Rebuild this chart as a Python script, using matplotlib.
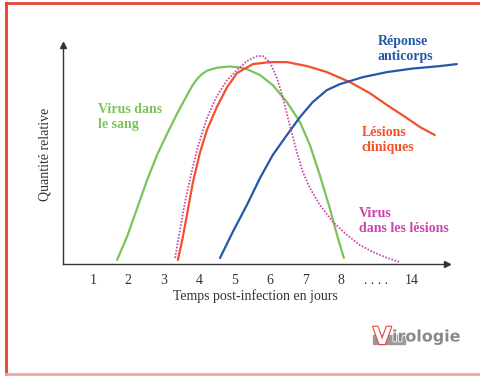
import matplotlib.pyplot as plt
import matplotlib.patheffects as pe
from matplotlib.lines import Line2D
from matplotlib.patches import Rectangle

# Day positions on the axis (position 9 is the "...." gap, position 10 is day 14)
tick_pos = [1, 2, 3, 4, 5, 6, 7, 8, 9, 10]
tick_labels = ['1', '2', '3', '4', '5', '6', '7', '8', '. . . .', '14']

# Virus dans le sang
sang_x = [1.68, 1.96, 2.24, 2.53, 2.81, 3.09, 3.37, 3.66, 3.80, 3.94, 4.08, 4.22, 4.50,
          4.87, 5.15, 5.35, 5.72, 6.08, 6.48, 6.85, 7.13, 7.41, 7.69, 7.92, 8.09]
sang_y = [0.02, 0.135, 0.275, 0.42, 0.545, 0.65, 0.75, 0.845, 0.89, 0.925, 0.95, 0.967, 0.982,
          0.988, 0.983, 0.975, 0.945, 0.895, 0.81, 0.71, 0.595, 0.445, 0.28, 0.13, 0.03]

# Lesions cliniques
lesions_x = [3.40, 3.54, 3.68, 3.82, 4.02, 4.22, 4.50, 4.79, 5.07, 5.52, 6.00, 6.48,
             7.05, 7.61, 8.26, 8.82, 9.31, 9.87, 10.24, 10.66]
lesions_y = [0.02, 0.135, 0.27, 0.405, 0.555, 0.67, 0.785, 0.885, 0.955, 1.0, 1.01, 1.01,
             0.99, 0.96, 0.91, 0.855, 0.795, 0.73, 0.685, 0.645]

# Virus dans les lesions
vles_x = [3.32, 3.46, 3.60, 3.80, 3.97, 4.22, 4.50, 4.79, 5.10, 5.35, 5.63, 5.80, 6.00,
          6.20, 6.37, 6.56, 6.76, 6.93, 7.13, 7.41, 7.78, 8.18, 8.54, 8.91, 9.31, 9.67]
vles_y = [0.03, 0.17, 0.31, 0.47, 0.59, 0.73, 0.84, 0.92, 0.975, 1.015, 1.04, 1.04, 1.01,
          0.93, 0.83, 0.695, 0.56, 0.46, 0.38, 0.295, 0.21, 0.145, 0.095, 0.06, 0.03, 0.01]

# Reponse anticorps
anti_x = [4.59, 4.95, 5.35, 5.72, 6.08, 6.48, 6.85, 7.21, 7.61, 7.98, 8.26, 8.63,
          9.31, 10.04, 10.80, 11.28]
anti_y = [0.03, 0.16, 0.295, 0.43, 0.545, 0.645, 0.735, 0.81, 0.87, 0.9, 0.915, 0.935,
          0.96, 0.978, 0.99, 1.0]

green = '#7cc35c'
orange = '#f4502a'
pink = '#cc44aa'
blue = '#2457a8'
axis_col = '#333333'

plt.rcParams['font.family'] = ['Liberation Serif', 'DejaVu Serif']

fig = plt.figure(figsize=(4.81, 3.76), dpi=100)
ax = fig.add_axes([0.131, 0.298, 0.798, 0.582])
ax.set_xlim(0.153, 11.0)
ax.set_ylim(0, 1.095)

curve = dict(lw=1.6, clip_on=False, solid_joinstyle='round', solid_capstyle='round')
ax.plot(sang_x, sang_y, color=green, **curve)
ax.plot(lesions_x, lesions_y, color=orange, **curve)
ax.plot(anti_x, anti_y, color=blue, **curve)
ax.plot(vles_x, vles_y, color=pink, lw=1.3, ls=(0, (0.9, 0.9)), clip_on=False)

# axes with arrow heads
for side in ['top', 'right']:
    ax.spines[side].set_visible(False)
for side in ['left', 'bottom']:
    ax.spines[side].set_color(axis_col)
    ax.spines[side].set_linewidth(1.0)
ax.plot(1, 0, '>', color=axis_col, ms=4, transform=ax.transAxes, clip_on=False)
ax.plot(0, 1, '^', color=axis_col, ms=4, transform=ax.transAxes, clip_on=False)

ax.set_xticks(tick_pos)
ax.set_xticklabels(tick_labels)
ax.set_yticks([])
ax.tick_params(axis='x', length=0, pad=7, labelsize=10, labelcolor=axis_col)
ax.set_xlabel('Temps post-infection en jours', fontsize=10, color=axis_col, labelpad=2)
ax.set_ylabel('Quantité relative', fontsize=10, color=axis_col, labelpad=8)

lbl = dict(fontsize=10, fontweight='bold', va='center', ha='left')
ax.text(1.14, 0.7375, 'Virus dans\nle sang', color=green, **lbl)
ax.text(9.05, 1.0775, 'Réponse\nanticorps', color=blue, clip_on=False, **lbl)
ax.text(8.60, 0.62, 'Lésions\ncliniques', color=orange, **lbl)
ax.text(8.51, 0.2125, 'Virus\ndans les lésions', color=pink, **lbl)

# Virologie logo
fig.patches.append(Rectangle((373 / 481, 1 - 344 / 376), 32 / 481, 9 / 376,
                             transform=fig.transFigure, color='#9a9a9a', zorder=1))
fig.text(373 / 481, 1 - 337 / 376, 'V', fontsize=17, fontweight='bold', family='DejaVu Sans',
         color='white', va='center', ha='left', zorder=3,
         path_effects=[pe.withStroke(linewidth=1.6, foreground='#e8453c')])
fig.text(392 / 481, 1 - 337 / 376, 'irologie', fontsize=11.5, fontweight='bold', family='DejaVu Sans',
         color='#8a8a8a', va='center', ha='left', zorder=3,
         path_effects=[pe.withStroke(linewidth=1.2, foreground='white')])

# page frame
fig.lines.append(Line2D([6 / 481, 1], [1 - 3 / 376, 1 - 3 / 376], transform=fig.transFigure,
                        color='#e8453c', lw=2))
fig.lines.append(Line2D([6 / 481, 6 / 481], [0, 1 - 3 / 376], transform=fig.transFigure,
                        color='#ee3b30', lw=2))
fig.lines.append(Line2D([6 / 481, 1], [2 / 376, 2 / 376], transform=fig.transFigure,
                        color='#f4a3a3', lw=2))

fig.savefig('out.png', dpi=100)
